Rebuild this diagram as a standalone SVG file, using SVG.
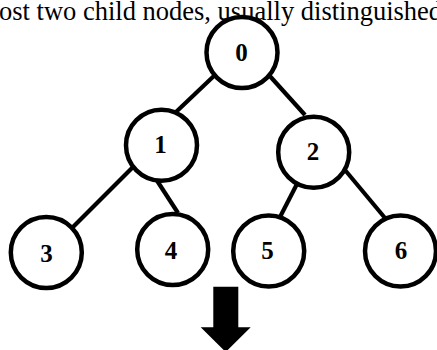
<svg xmlns="http://www.w3.org/2000/svg" width="437" height="350" viewBox="0 0 437 350">
<style>
.hdr{font-family:"Liberation Serif","Times New Roman",serif;font-size:26.5px;fill:#000}
.node circle{fill:#fff;stroke:#000;stroke-width:4.5}
.node text{font-family:"Liberation Serif","Times New Roman",serif;font-size:25px;font-weight:bold;text-anchor:middle;fill:#000}
.edges line{stroke:#000;stroke-width:4.2}
</style>
<rect width="437" height="350" fill="#fff"/>
<text class="hdr" x="-1" y="19.5">ost two child nodes, usually distinguished</text>
<g id="connectors" class="edges">
<line x1="216" y1="74" x2="176" y2="112"/>
<line x1="268" y1="74" x2="305" y2="115"/>
<line x1="135" y1="165" x2="73" y2="227"/>
<line x1="154" y1="176" x2="178" y2="213"/>
<line x1="298" y1="182" x2="280" y2="217"/>
<line x1="345" y1="170" x2="385" y2="218"/>
</g>
<g id="node0" class="node"><circle cx="242" cy="52.5" r="35.5"/><text x="241.5" y="61">0</text></g>
<g id="node1" class="node"><circle cx="161.5" cy="145.3" r="35.5"/><text x="160.5" y="153.3">1</text></g>
<g id="node2" class="node"><circle cx="313.7" cy="152.3" r="35.5"/><text x="313" y="160">2</text></g>
<g id="node3" class="node"><circle cx="46.3" cy="252.5" r="35.5"/><text x="46.5" y="261.5">3</text></g>
<g id="node4" class="node"><circle cx="172.7" cy="249.5" r="35.5"/><text x="171" y="259">4</text></g>
<g id="node5" class="node"><circle cx="268.7" cy="251" r="35.5"/><text x="267.5" y="258.5">5</text></g>
<g id="node6" class="node"><circle cx="400.5" cy="251" r="35.5"/><text x="401" y="258.5">6</text></g>
<g id="arrow"><polygon points="213.3,286.7 238.3,286.7 238.3,327.3 250.7,327.3 225.7,352 200.7,327.3 213.3,327.3" fill="#000"/></g>
</svg>
